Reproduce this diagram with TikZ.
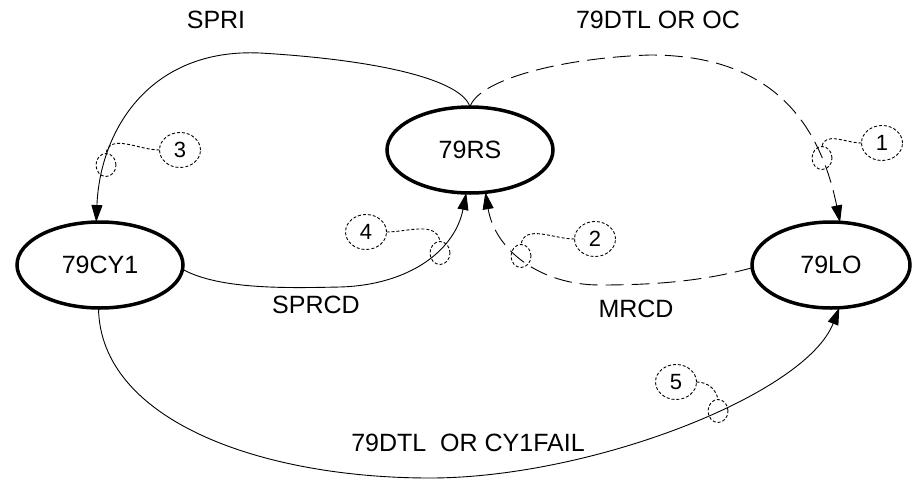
\documentclass[tikz,border=0pt]{standalone}
\usepackage{fontspec}
\setmainfont{Liberation Sans}
\usetikzlibrary{arrows.meta,shapes.geometric}
\begin{document}
\begin{tikzpicture}[x=1pt,y=-1pt,
 state/.style={ellipse,draw,line width=3.5pt,minimum width=166pt,minimum height=86pt,inner sep=0pt,outer sep=0pt,font=\fontsize{25}{30}\selectfont},
 lbl/.style={font=\fontsize{25}{30}\selectfont,inner sep=0pt},
 edge/.style={line width=0.9pt},
 longdash/.style={dash pattern=on 18pt off 8pt},
 tip/.style={-{Triangle[length=17pt,width=11pt]}},
 callout/.style={ellipse,draw,dash pattern=on 3pt off 2pt,line width=0.9pt,minimum width=41pt,minimum height=35pt,inner sep=0pt,outer sep=0pt,font=\fontsize{22}{26}\selectfont},
 lasso/.style={ellipse,draw,dash pattern=on 3pt off 2pt,line width=0.9pt,minimum width=20pt,minimum height=23pt,inner sep=0pt,outer sep=0pt},
 dotline/.style={dash pattern=on 3pt off 2pt,line width=0.9pt}]
\useasboundingbox (0,0) rectangle (912,479);
% states
\node[state] (rs) at (470,150) {79RS};
\node[state] (cy) at (100,265) {79CY1};
\node[state,minimum width=158pt] (lo) at (831,265) {79LO};
% labels
\node[lbl] (lspri) at (216,20) {SPRI};
\node[lbl] (ldtl) at (658,20) {79DTL OR OC};
\node[lbl] (lsprcd) at (316,305) {SPRCD};
\node[lbl] (lmrcd) at (636,309) {MRCD};
\node[lbl] (lfail) at (468,443) {79DTL\ \ OR CY1FAIL};
% edges
\draw[edge,tip] (rs.north) .. controls (462,80) and (380,60) .. (260,53)
   .. controls (150,48) and (100,130) .. (cy.95);
\draw[edge,longdash,tip] (rs.north) .. controls (478,80) and (560,58) .. (650,55)
   .. controls (750,55) and (815,100) .. (lo.78);
\draw[edge,tip] (cy.357) .. controls (220,290) and (290,288) .. (340,287)
   .. controls (410,285) and (455,250) .. (rs.265);
\draw[edge,longdash,tip] (lo.182) .. controls (700,282) and (650,285) .. (600,285)
   .. controls (540,285) and (495,250) .. (rs.290);
\draw[edge,tip] (cy.268) .. controls (100,420) and (260,478) .. (430,478)
   .. controls (590,478) and (805,395) .. (lo.281);
% callouts
\node[callout] (c1) at (882,143) {1};
\node[callout] (c2) at (595,239) {2};
\node[callout] (c3) at (180,150) {3};
\node[callout] (c4) at (366,232) {4};
\node[callout] (c5) at (676,382) {5};
\node[lasso] (s1) at (822,158) {};
\node[lasso] (s2) at (521,256) {};
\node[lasso] (s3) at (106,165) {};
\node[lasso] (s4) at (440,253) {};
\node[lasso] (s5) at (718,411) {};
\draw[dotline] (c1.west) to[out=180,in=80] (s1.north);
\draw[dotline] (c2.west) to[out=180,in=80] (s2.north);
\draw[dotline] (c3.west) to[out=180,in=80] (s3.north);
\draw[dotline] (c4.east) to[out=0,in=100] (s4.north);
\draw[dotline] (c5.east) to[out=0,in=100] (s5.north);
\end{tikzpicture}
\end{document}
